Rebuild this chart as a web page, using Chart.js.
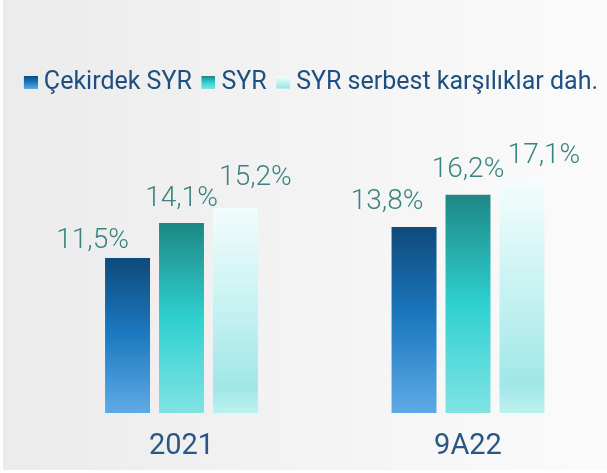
<!DOCTYPE html>
<html>
<head>
<meta charset="utf-8">
<script src="https://cdn.jsdelivr.net/npm/chart.js@4/dist/chart.umd.min.js"></script>
<style>
  html, body { margin: 0; padding: 0; background: #fff; overflow: hidden; }
  #panel {
    position: absolute; left: 3px; top: 0; width: 604px; height: 470px;
    background: linear-gradient(to right, #ebebeb 0%, #f3f3f3 50%, #fbfbfb 100%);
  }
  #wrap { position: absolute; left: 0; top: 0; width: 607px; height: 473px; }
</style>
</head>
<body>
<div id="panel"></div>
<div id="wrap"><canvas id="ratioChart"></canvas></div>
<script>
// Data
const categories = ['2021', '9A22'];
const seriesNames = ['Çekirdek SYR', 'SYR', 'SYR serbest karşılıklar dah.'];
const coreRatio = [11.5, 13.8];
const ratio = [14.1, 16.2];
const ratioAdjusted = [15.2, 17.1];

// Gradient stops per series (top -> bottom)
const gradients = [
  [[0, '#0f4a7b'], [0.48, '#1b78be'], [1, '#5faae6']],
  [[0, '#1d8784'], [0.5, '#2fd0d0'], [1, '#80e3e3']],
  [[0, '#f3fdfd'], [0.55, '#c0f0f0'], [0.88, '#a0e7e8'], [1, '#bdf1f1']]
];

function barGradient(seriesIndex) {
  return function(context) {
    const chart = context.chart;
    const yScale = chart.scales.y;
    if (!yScale || context.type !== 'data') return gradients[seriesIndex][1][1];
    const top = yScale.getPixelForValue(context.raw);
    const bottom = yScale.getPixelForValue(0);
    const g = chart.ctx.createLinearGradient(0, top, 0, bottom);
    gradients[seriesIndex].forEach(s => g.addColorStop(s[0], s[1]));
    return g;
  };
}

// legend swatch: drawn on the right part of a wider canvas so it sits next to the text
function legendSwatch(seriesIndex) {
  const c = document.createElement('canvas');
  c.width = 21; c.height = 13;
  const cx = c.getContext('2d');
  const g = cx.createLinearGradient(0, 0, 0, 13);
  gradients[seriesIndex].forEach(s => g.addColorStop(s[0], s[1]));
  cx.fillStyle = g;
  cx.fillRect(7, 0, 14, 13);
  return c;
}

const formatValue = v => v.toFixed(1).replace('.', ',') + '%';

// Value labels above the bars (labels are nudged sideways so they don't collide)
const valueLabels = {
  id: 'valueLabels',
  afterDatasetsDraw(chart, args, opts) {
    const ctx = chart.ctx;
    ctx.save();
    ctx.font = '300 28px Roboto';
    ctx.fillStyle = '#3a8381';
    ctx.textAlign = 'center';
    ctx.textBaseline = 'alphabetic';
    chart.data.datasets.forEach((ds, i) => {
      const meta = chart.getDatasetMeta(i);
      meta.data.forEach((bar, j) => {
        ctx.fillText(formatValue(ds.data[j]), bar.x + opts.shift[i][j], bar.y - opts.gap[i][j]);
      });
    });
    ctx.restore();
  }
};

const seriesData = [coreRatio, ratio, ratioAdjusted];

new Chart(document.getElementById('ratioChart'), {
  type: 'bar',
  data: {
    labels: categories,
    datasets: seriesData.map((d, i) => ({
      label: seriesNames[i],
      data: d,
      backgroundColor: barGradient(i),
      borderWidth: 0,
      categoryPercentage: 0.565,
      barPercentage: 0.833,
      clip: false
    }))
  },
  options: {
    responsive: true,
    maintainAspectRatio: false,
    animation: false,
    layout: {
      padding: { top: 61, left: 0, right: 0, bottom: 0 }
    },
    plugins: {
      legend: {
        position: 'top',
        align: 'end',
        labels: {
          font: { family: 'Roboto', size: 25 },
          color: '#1d4f82',
          usePointStyle: true,
          boxWidth: 8,
          boxHeight: 13,
          padding: 9,
          generateLabels: function(chart) {
            return chart.data.datasets.map((ds, i) => ({
              text: ds.label,
              pointStyle: legendSwatch(i),
              fontColor: '#1d4f82',
              lineWidth: 0,
              strokeStyle: 'transparent',
              hidden: false,
              datasetIndex: i
            }));
          }
        }
      },
      tooltip: { enabled: false },
      valueLabels: {
        shift: [[-35, -27], [0, 0], [20, 22]],
        gap: [[10, 18], [17, 18], [23, 20]]
      }
    },
    scales: {
      x: {
        offset: false,
        grid: { display: false, drawTicks: false },
        border: { display: false },
        ticks: {
          font: { family: 'Roboto', size: 29 },
          color: '#2a5783',
          padding: 16
        },
        afterFit: function(scale) { scale.height = 60; }
      },
      y: {
        min: 0,
        max: 22.85,
        position: 'left',
        grid: { display: false, drawTicks: false },
        border: { display: false },
        ticks: { display: false },
        afterFit: function(scale) { scale.width = 181.5; }
      },
      yRight: {
        type: 'linear',
        position: 'right',
        grid: { display: false, drawTicks: false },
        border: { display: false },
        ticks: { display: false },
        afterFit: function(scale) { scale.width = 139; }
      }
    }
  },
  plugins: [valueLabels]
});
</script>
</body>
</html>
